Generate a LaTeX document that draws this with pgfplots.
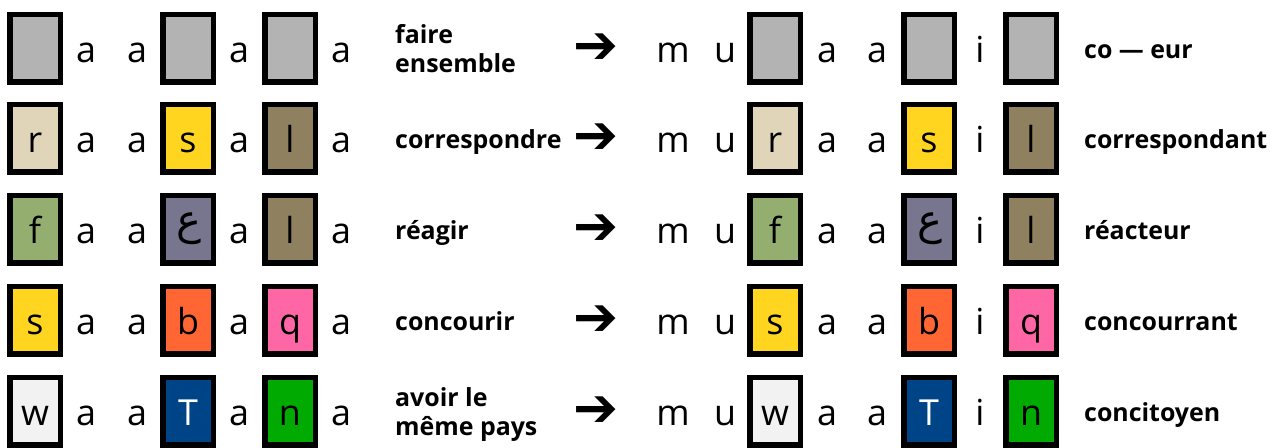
\documentclass[border=0pt]{standalone}
\usepackage{fontspec}
\setmainfont{Open Sans}
\newfontfamily\arabicfont[Script=Arabic]{DejaVu Sans}
\newfontfamily\symfont{DejaVu Sans}
\TeXXeTstate=1
\usepackage{pgfplots}
\pgfplotsset{compat=1.18}
\definecolor{cgray}{HTML}{B3B3B3}
\definecolor{cbeige}{HTML}{E0D5B8}
\definecolor{cyellow}{HTML}{FFD520}
\definecolor{cbrown}{HTML}{8F8060}
\definecolor{colive}{HTML}{94AE70}
\definecolor{cpurple}{HTML}{78758F}
\definecolor{corange}{HTML}{FF6633}
\definecolor{cpink}{HTML}{FF66A6}
\definecolor{clight}{HTML}{F2F2F2}
\definecolor{cblue}{HTML}{004488}
\definecolor{cgreen}{HTML}{00AA00}
\newcommand\regfont{\fontsize{36}{42}\selectfont}
\newcommand\labfont{\fontsize{25}{30}\selectfont\bfseries}
\newcommand\arrowfont{\fontsize{54}{60}\selectfont\symfont}
\newcommand\ain{{\fontsize{42}{48}\selectfont\arabicfont\beginR ع\endR}}
% box: left, top, fill colour, letter
\newcommand\bx[4]{%
 \pgfmathsetmacro\xa{#1+2.75}\pgfmathsetmacro\xb{#1+53.25}%
 \pgfmathsetmacro\ya{#2+2.75}\pgfmathsetmacro\yb{#2+70.25}%
 \pgfmathsetmacro\xc{#1+28}\pgfmathsetmacro\yc{#2+51}%
 \edef\tmp{\noexpand\addplot[fill=#3,draw=black,line width=5.5bp,line join=miter] coordinates {(\xa,\ya) (\xb,\ya) (\xb,\yb) (\xa,\yb)} -- cycle;
 \noexpand\node[anchor=base,inner sep=0pt,font=\noexpand\regfont] at (axis cs:\xc,\yc) {\unexpanded{#4}};}\tmp}
% box with centred glyph
\newcommand\bxc[4]{%
 \pgfmathsetmacro\xa{#1+2.75}\pgfmathsetmacro\xb{#1+53.25}%
 \pgfmathsetmacro\ya{#2+2.75}\pgfmathsetmacro\yb{#2+70.25}%
 \pgfmathsetmacro\xc{#1+29}\pgfmathsetmacro\yc{#2+36}%
 \edef\tmp{\noexpand\addplot[fill=#3,draw=black,line width=5.5bp,line join=miter] coordinates {(\xa,\ya) (\xb,\ya) (\xb,\yb) (\xa,\yb)} -- cycle;
 \noexpand\node[anchor=center,inner sep=0pt] at (axis cs:\xc,\yc) {\unexpanded{#4}};}\tmp}
% plain letter: x centre, row top, text
\newcommand\tx[3]{%
 \pgfmathsetmacro\yc{#2+51}%
 \edef\tmp{\noexpand\node[anchor=base,inner sep=0pt,font=\noexpand\regfont] at (axis cs:#1,\yc) {\unexpanded{#3}};}\tmp}
\newcommand\arr[1]{%
 \pgfmathsetmacro\ym{#1+36.5}%
 \edef\tmp{\noexpand\node[inner sep=0pt,font=\noexpand\arrowfont] at (axis cs:596,\ym) {➔};}\tmp}
\newcommand\rowbody[7]{%
 \bx{7}{#1}{#2}{#3}\tx{86}{#1}{a}\tx{137}{#1}{a}\bx{160}{#1}{#4}{#5}\tx{239}{#1}{a}\bx{262}{#1}{#6}{#7}\tx{341}{#1}{a}%
 \arr{#1}%
 \tx{673}{#1}{m}\tx{725}{#1}{u}\bx{747}{#1}{#2}{#3}\tx{827}{#1}{a}\tx{877}{#1}{a}\bx{901}{#1}{#4}{#5}\tx{980}{#1}{i}\bx{1003}{#1}{#6}{#7}}
% row: top, c1,l1,c2,l2,c3,l3, left label, right label
\newcommand\row[9]{%
 \rowbody{#1}{#2}{#3}{#4}{#5}{#6}{#7}%
 \pgfmathsetmacro\yl{#1+47}%
 \edef\tmp{\noexpand\node[anchor=base west,inner sep=0pt,align=left,font=\noexpand\labfont] at (axis cs:395,\yl) {\unexpanded{#8}};
 \noexpand\node[anchor=base west,inner sep=0pt,align=left,font=\noexpand\labfont] at (axis cs:1084,\yl) {\unexpanded{#9}};}\tmp}
\newcommand\rowtwo[9]{%
 \rowbody{#1}{#2}{#3}{#4}{#5}{#6}{#7}%
 \pgfmathsetmacro\yl{#1+61}\pgfmathsetmacro\yr{#1+47}%
 \edef\tmp{\noexpand\node[anchor=base west,inner sep=0pt,align=left,font=\noexpand\labfont] at (axis cs:395,\yl) {\unexpanded{#8}};
 \noexpand\node[anchor=base west,inner sep=0pt,align=left,font=\noexpand\labfont] at (axis cs:1084,\yr) {\unexpanded{#9}};}\tmp}
\begin{document}
\begin{tikzpicture}
\begin{axis}[
  x=1bp, y=1bp, y dir=reverse,
  xmin=0, xmax=1277, ymin=0, ymax=446,
  axis line style={draw=none}, ticks=none, clip=false,
]
\rowtwo{12}{cgray}{}{cgray}{}{cgray}{}{faire\\ensemble}{co — eur}
\row{102}{cbeige}{r}{cyellow}{s}{cbrown}{l}{correspondre}{correspondant}
% row 3 (ain drawn centred in its box)
\bx{7}{193}{colive}{f}\tx{86}{193}{a}\tx{137}{193}{a}\bxc{160}{193}{cpurple}{\ain}\tx{239}{193}{a}\bx{262}{193}{cbrown}{l}\tx{341}{193}{a}
\arr{193}
\tx{673}{193}{m}\tx{725}{193}{u}\bx{747}{193}{colive}{f}\tx{827}{193}{a}\tx{877}{193}{a}\bxc{901}{193}{cpurple}{\ain}\tx{980}{193}{i}\bx{1003}{193}{cbrown}{l}
\node[anchor=base west,inner sep=0pt,font=\labfont] at (axis cs:395,240) {réagir};
\node[anchor=base west,inner sep=0pt,font=\labfont] at (axis cs:1084,240) {réacteur};
\row{284}{cyellow}{s}{corange}{b}{cpink}{q}{concourir}{concourrant}
\rowtwo{375}{clight}{w}{cblue}{\textcolor{white}{T}}{cgreen}{n}{avoir le\\même pays}{concitoyen}
\end{axis}
\end{tikzpicture}
\end{document}
